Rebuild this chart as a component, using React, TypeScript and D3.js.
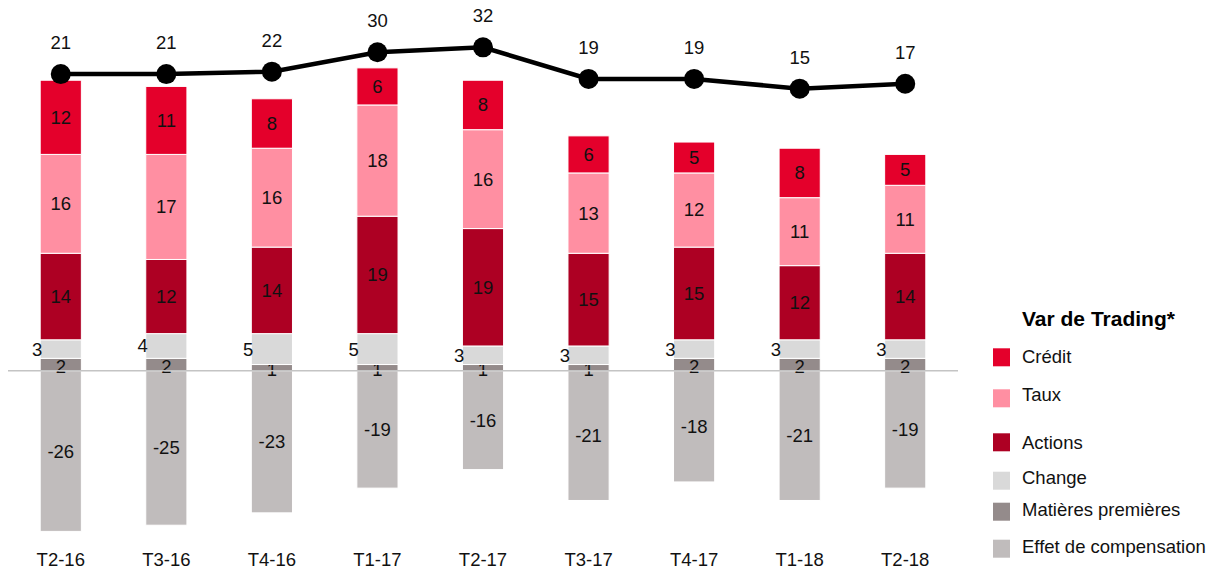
import React, { useEffect, useRef } from 'react';
import * as d3 from 'd3';

// quarters
const categories = ['T2-16', 'T3-16', 'T4-16', 'T1-17', 'T2-17', 'T3-17', 'T4-17', 'T1-18', 'T2-18'];

// stacked positive components (bottom to top)
const matieres = [2, 2, 1, 1, 1, 1, 2, 2, 2];
const change = [3, 4, 5, 5, 3, 3, 3, 3, 3];
const actions = [14, 12, 14, 19, 19, 15, 15, 12, 14];
const taux = [16, 17, 16, 18, 16, 13, 12, 11, 11];
const credit = [12, 11, 8, 6, 8, 6, 5, 8, 5];
// negative offset
const compensation = [-26, -25, -23, -19, -16, -21, -18, -21, -19];
// total trading VaR (line, secondary axis)
const varTotal = [21, 21, 22, 30, 32, 19, 19, 15, 17];

const FONT = '"Liberation Sans", Arial, sans-serif';

const App = () => {
  const svgRef = useRef<SVGSVGElement>(null);

  useEffect(() => {
    const width = 1213;
    const height = 570;
    const svg = d3.select(svgRef.current);
    svg.selectAll('*').remove();
    svg.attr('width', width).attr('height', height);

    const series = [
      { key: 'Matières premières', values: matieres, color: '#948b8b' },
      { key: 'Change', values: change, color: '#d9d9d9' },
      { key: 'Actions', values: actions, color: '#ad0023' },
      { key: 'Taux', values: taux, color: '#ff8fa2' },
      { key: 'Crédit', values: credit, color: '#e4002b' },
    ];
    const compColor = '#c0bcbc';

    const x = d3.scaleBand().domain(categories).range([8, 958])
      .paddingInner(0.61).paddingOuter(0.305);
    const y = d3.scaleLinear().domain([-30, 50]).range([556.1, 61.7]);
    const yLine = d3.scaleLinear().domain([0, 40]).range([125.1, 27.9]);

    const g = svg.append('g').style('font-family', FONT);

    // negative bars
    categories.forEach((c, i) => {
      const x0 = x(c)!;
      const v = compensation[i];
      g.append('rect')
        .attr('x', x0).attr('width', x.bandwidth())
        .attr('y', y(0)).attr('height', y(v) - y(0))
        .attr('fill', compColor)
        .attr('stroke', '#fff').attr('stroke-width', 1);
      g.append('text')
        .attr('x', x0 + x.bandwidth() / 2)
        .attr('y', (y(0) + y(v)) / 2)
        .attr('dy', '0.35em')
        .attr('text-anchor', 'middle')
        .style('font-size', '18.5px')
        .attr('fill', '#111')
        .text(v);
    });

    // stacked positive bars
    categories.forEach((c, i) => {
      const x0 = x(c)!;
      let acc = 0;
      series.forEach((s) => {
        const v = s.values[i];
        const y0 = y(acc);
        const y1 = y(acc + v);
        acc += v;
        g.append('rect')
          .attr('x', x0).attr('width', x.bandwidth())
          .attr('y', y1).attr('height', y0 - y1)
          .attr('fill', s.color)
          .attr('stroke', '#fff').attr('stroke-width', 1);
        const t = g.append('text')
          .attr('y', (y0 + y1) / 2)
          .attr('dy', '0.35em')
          .style('font-size', '18.5px')
          .attr('fill', '#111')
          .text(v);
        if (s.key === 'Change') {
          t.attr('x', x0 + 2).attr('text-anchor', 'end');
        } else if (s.key === 'Matières premières') {
          t.attr('x', x0 + x.bandwidth() / 2).attr('text-anchor', 'middle').attr('dy', '0.45em');
        } else {
          t.attr('x', x0 + x.bandwidth() / 2).attr('text-anchor', 'middle');
        }
      });
    });

    // zero line
    g.append('line')
      .attr('x1', 8).attr('x2', 958)
      .attr('y1', y(0)).attr('y2', y(0))
      .attr('stroke', '#c4c4c4').attr('stroke-width', 1.5);

    // VaR line
    const cx = (i: number) => x(categories[i])! + x.bandwidth() / 2;
    const line = d3.line<number>()
      .x((_, i) => cx(i))
      .y((d) => yLine(d));
    g.append('path')
      .attr('d', line(varTotal))
      .attr('fill', 'none')
      .attr('stroke', '#000')
      .attr('stroke-width', 4.5);
    varTotal.forEach((v, i) => {
      g.append('circle')
        .attr('cx', cx(i)).attr('cy', yLine(v)).attr('r', 10)
        .attr('fill', '#000');
      g.append('text')
        .attr('x', cx(i)).attr('y', yLine(v) - 25)
        .attr('text-anchor', 'middle')
        .style('font-size', '18.5px')
        .attr('fill', '#111')
        .text(v);
    });

    // category labels
    categories.forEach((c) => {
      g.append('text')
        .attr('x', x(c)! + x.bandwidth() / 2)
        .attr('y', 566)
        .attr('text-anchor', 'middle')
        .style('font-size', '18.5px')
        .attr('fill', '#111')
        .text(c);
    });

    // legend
    g.append('text')
      .attr('x', 1022).attr('y', 325.7)
      .style('font-size', '21px').style('font-weight', 'bold')
      .attr('fill', '#000')
      .text('Var de Trading*');

    const legendItems = [
      { key: 'Crédit', color: '#e4002b', sq: 348.3, base: 362.7 },
      { key: 'Taux', color: '#ff8fa2', sq: 389.3, base: 401 },
      { key: 'Actions', color: '#ad0023', sq: 433.3, base: 449 },
      { key: 'Change', color: '#d9d9d9', sq: 471.7, base: 483.5 },
      { key: 'Matières premières', color: '#948b8b', sq: 502.7, base: 515.7 },
      { key: 'Effet de compensation', color: compColor, sq: 539.7, base: 552.7 },
    ];
    legendItems.forEach((l) => {
      g.append('rect')
        .attr('x', 993).attr('y', l.sq)
        .attr('width', 17).attr('height', 18)
        .attr('fill', l.color);
      g.append('text')
        .attr('x', 1022).attr('y', l.base)
        .style('font-size', '18.5px')
        .attr('fill', '#111')
        .text(l.key);
    });
  }, []);

  return (
    <svg
      ref={svgRef}
      style={{ position: 'absolute', left: 0, top: 0, display: 'block', background: '#fff' }}
    />
  );
};

export default App;
